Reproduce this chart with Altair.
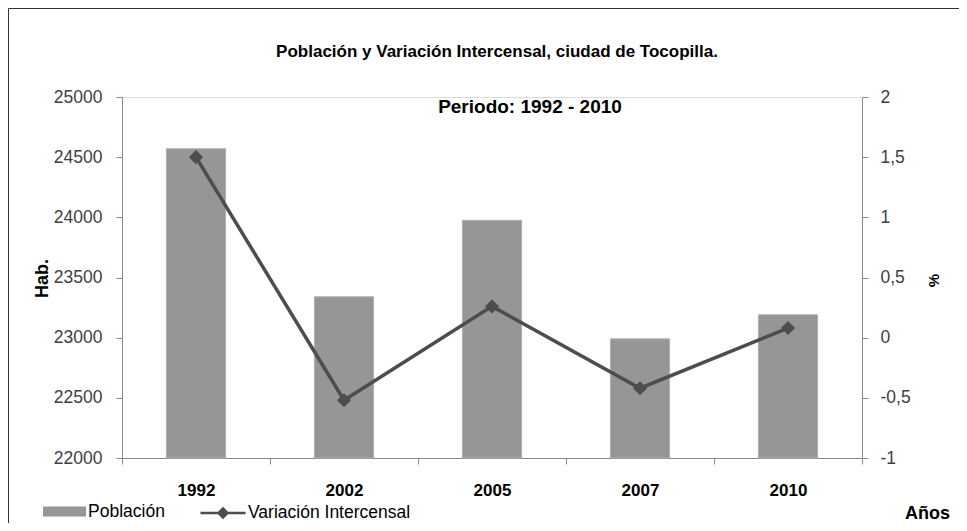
import altair as alt
import pandas as pd

# ---- data ----
years = ["1992", "2002", "2005", "2007", "2010"]
poblacion = [24570, 23340, 23975, 22990, 23190]
variacion = [1.50, -0.52, 0.26, -0.42, 0.08]
left_ticks = [22000, 22500, 23000, 23500, 24000, 24500, 25000]
right_ticks = [-1, -0.5, 0, 0.5, 1, 1.5, 2]
title_text = "Población y Variación Intercensal, ciudad de Tocopilla."
subtitle_text = "Periodo: 1992 - 2010"
bar_name = "Población"
line_name = "Variación Intercensal"

df = pd.DataFrame({
    "Año": years,
    "Población": poblacion,
    "Variación": variacion,
    "serie_b": [bar_name] * len(years),
    "serie_l": [line_name] * len(years),
})

W, H = 740, 361
FONT = "Liberation Sans, Arial, sans-serif"
AXIS_GRAY = "#8a8a8a"
BAR_GRAY = "#969696"
LINE_GRAY = "#4d4d4d"

x_enc = alt.X(
    "Año:N", sort=years,
    scale=alt.Scale(paddingInner=0, paddingOuter=0),
    axis=alt.Axis(
        title="Años", labelAngle=0, labelFont=FONT, labelFontWeight="bold",
        labelFontSize=17, labelColor="#000000", tickBand="extent", tickSize=6,
        labelPadding=18, domainColor=AXIS_GRAY, tickColor=AXIS_GRAY,
        titleFont=FONT, titleFontWeight="bold", titleFontSize=18,
        titleColor="#000000", titleX=805, titleY=55, titleAlign="center",
        titleBaseline="middle",
    ),
)

bars = alt.Chart(df).mark_bar(
    width=alt.RelativeBandSize(0.4), stroke="#b0b0b0", strokeWidth=1
).encode(
    x=x_enc,
    y=alt.Y(
        "Población:Q",
        scale=alt.Scale(domain=[22000, 25000], zero=False, nice=False),
        axis=alt.Axis(
            title="Hab.", values=left_ticks, format="d", labelFont=FONT,
            labelFontSize=17.5, labelColor="#404040", tickSize=6, labelPadding=14,
            domainColor=AXIS_GRAY, tickColor=AXIS_GRAY, grid=False,
            titleFont=FONT, titleFontWeight="bold", titleFontSize=18,
            titleColor="#000000", titleAngle=-90, titleX=-80, titleY=181,
            titleAlign="center", titleBaseline="middle",
        ),
    ),
    y2=alt.datum(22000),
    fill=alt.Fill(
        "serie_b:N",
        scale=alt.Scale(domain=[bar_name], range=[BAR_GRAY]),
        legend=alt.Legend(
            title=None, orient="none", legendX=-79, legendY=393, padding=0,
            symbolType="M-1,-0.23H1V0.23H-1Z", symbolSize=1849,
            symbolStrokeWidth=0, labelFont=FONT, labelFontSize=17.5,
            labelColor="#000000", labelOffset=2, labelLimit=0,
        ),
    ),
)

y_right = alt.Y(
    "Variación:Q",
    scale=alt.Scale(domain=[-1, 2], nice=False, zero=False),
    axis=alt.Axis(
        orient="right", title="%", values=right_ticks,
        labelExpr="replace(toString(datum.value), '.', ',')",
        labelFont=FONT, labelFontSize=17.5, labelColor="#404040", tickSize=6,
        labelPadding=12, domainColor=AXIS_GRAY, tickColor=AXIS_GRAY, grid=False,
        titleFont=FONT, titleFontWeight="bold", titleFontSize=15,
        titleColor="#000000", titleAngle=-90, titleX=71, titleY=183,
        titleAlign="center", titleBaseline="middle",
    ),
)

line = alt.Chart(df).mark_line(strokeWidth=3.5).encode(
    x=x_enc,
    y=y_right,
    stroke=alt.Stroke(
        "serie_l:N",
        scale=alt.Scale(domain=[line_name], range=[LINE_GRAY]),
        legend=alt.Legend(
            title=None, orient="none", legendX=77, legendY=392, padding=0,
            symbolType="M-1,0H1M0,-0.2L0.2,0L0,0.2L-0.2,0Z", symbolSize=2025,
            symbolStrokeWidth=2.5, symbolFillColor=LINE_GRAY,
            labelFont=FONT, labelFontSize=17.5, labelColor="#000000",
            labelOffset=1, labelLimit=0,
        ),
    ),
)
points = alt.Chart(df).mark_point(
    shape="diamond", filled=True, size=200, color=LINE_GRAY, opacity=1
).encode(x=x_enc, y=y_right)

line_layer = alt.layer(line, points)

txt_df = pd.DataFrame({"t": [title_text]})
sub_df = pd.DataFrame({"t": [subtitle_text]})
title = alt.Chart(txt_df).mark_text(
    font=FONT, fontWeight="bold", fontSize=17, color="#000000", align="center",
    baseline="middle"
).encode(text="t:N", x=alt.value(375), y=alt.value(-45))
subtitle = alt.Chart(sub_df).mark_text(
    font=FONT, fontWeight="bold", fontSize=19, color="#000000", align="center",
    baseline="middle"
).encode(text="t:N", x=alt.value(408), y=alt.value(10))

border_v = alt.Chart(txt_df).mark_rule(color="#333333", strokeWidth=1).encode(
    x=alt.value(-113.5), y=alt.value(-88.5), y2=alt.value(H + 65)
)
border_h = alt.Chart(txt_df).mark_rule(color="#333333", strokeWidth=1).encode(
    x=alt.value(-113.5), x2=alt.value(W + 97), y=alt.value(-88.5)
)

chart = alt.layer(bars, line_layer, title, subtitle, border_v, border_h).resolve_scale(
    y="independent", fill="independent", stroke="independent"
).properties(
    width=W, height=H,
    autosize=alt.AutoSizeParams(type="none"),
    padding={"left": 114, "top": 89, "right": 97, "bottom": 65},
).configure_view(stroke=None).configure(background="#ffffff")

chart.save("out.html", embed_options={"renderer": "svg", "actions": False})
